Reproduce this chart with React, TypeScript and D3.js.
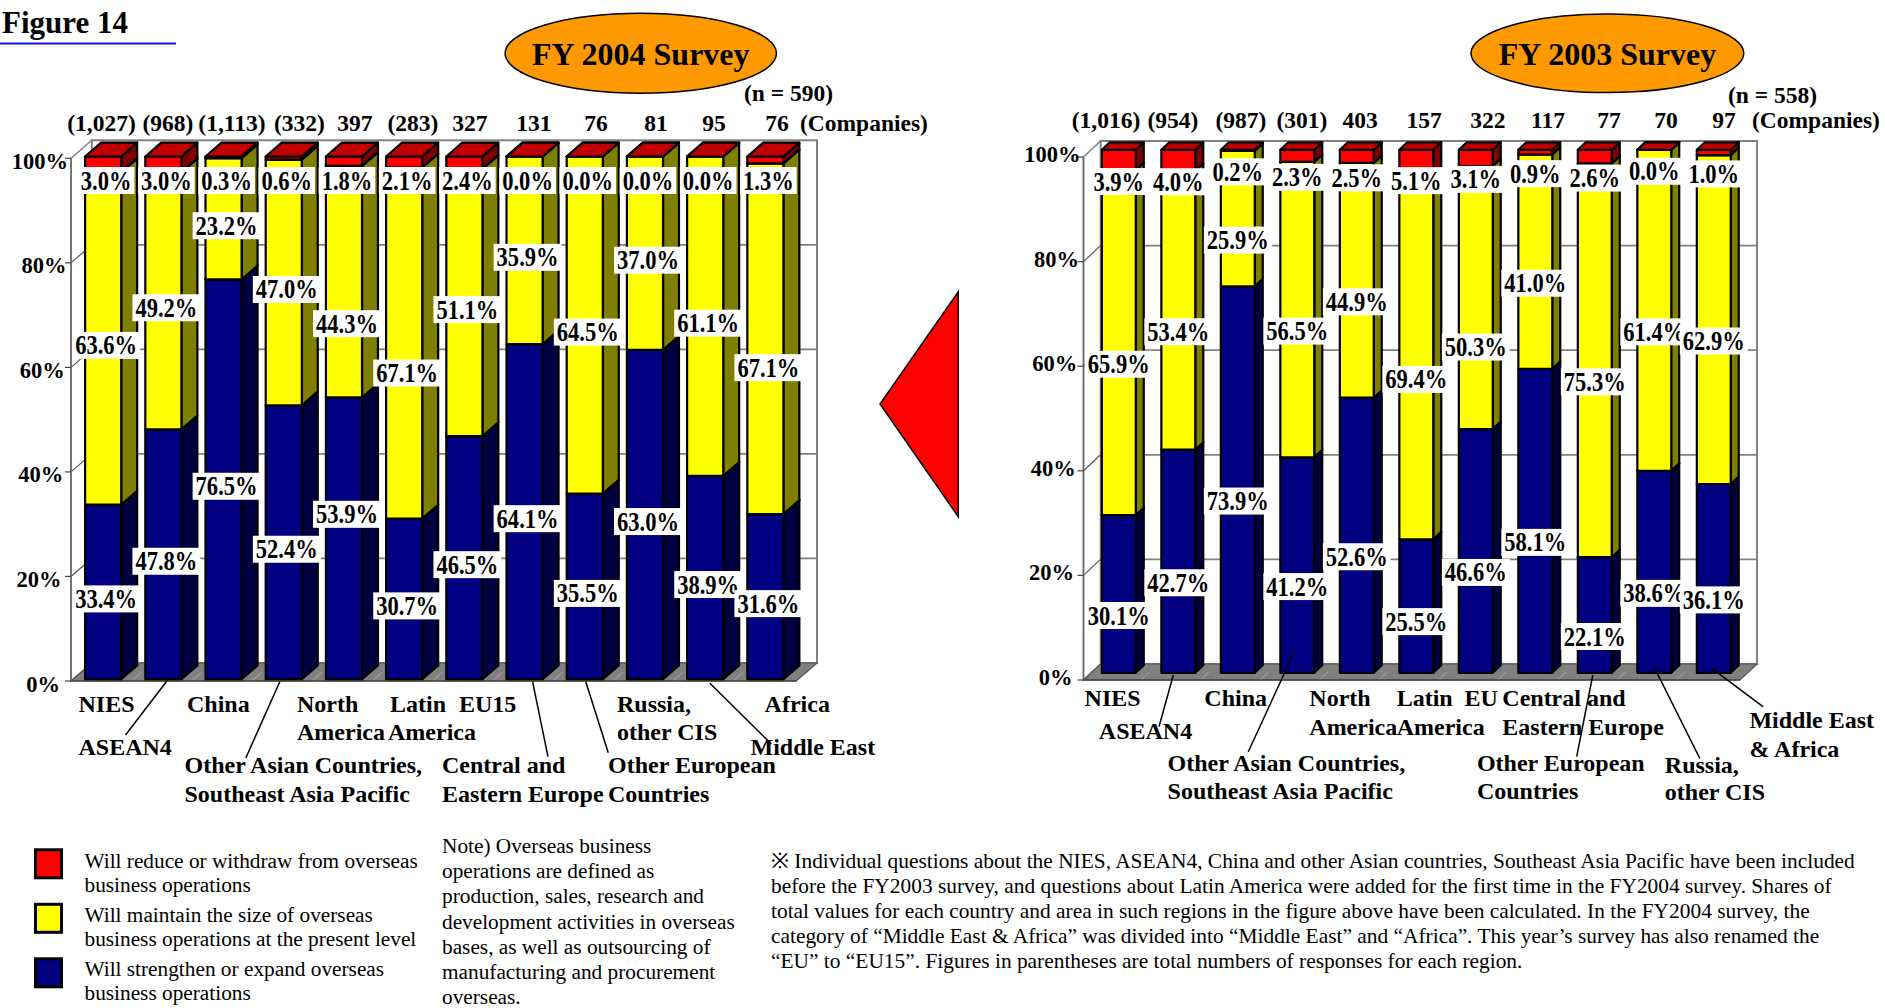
import React from "react";
import * as d3 from "d3";

// ---------- data ----------
const FY2004_REGIONS = [
  "NIES", "ASEAN4", "China", "Other Asian Countries, Southeast Asia Pacific",
  "North America", "Latin America", "EU15", "Central and Eastern Europe",
  "Other European Countries", "Russia, other CIS", "Middle East", "Africa",
];
const FY2004_COUNTS = ["(1,027)", "(968)", "(1,113)", "(332)", "397", "(283)", "327", "131", "76", "81", "95", "76"];
const FY2004_REDUCE = [3.0, 3.0, 0.3, 0.6, 1.8, 2.1, 2.4, 0.0, 0.0, 0.0, 0.0, 1.3];
const FY2004_MAINTAIN = [63.6, 49.2, 23.2, 47.0, 44.3, 67.1, 51.1, 35.9, 64.5, 37.0, 61.1, 67.1];
const FY2004_EXPAND = [33.4, 47.8, 76.5, 52.4, 53.9, 30.7, 46.5, 64.1, 35.5, 63.0, 38.9, 31.6];

const FY2003_REGIONS = [
  "NIES", "ASEAN4", "China", "Other Asian Countries, Southeast Asia Pacific",
  "North America", "Latin America", "EU", "Central and Eastern Europe",
  "Other European Countries", "Russia, other CIS", "Middle East & Africa",
];
const FY2003_COUNTS = ["(1,016)", "(954)", "(987)", "(301)", "403", "157", "322", "117", "77", "70", "97"];
const FY2003_REDUCE = [3.9, 4.0, 0.2, 2.3, 2.5, 5.1, 3.1, 0.9, 2.6, 0.0, 1.0];
const FY2003_MAINTAIN = [65.9, 53.4, 25.9, 56.5, 44.9, 69.4, 50.3, 41.0, 75.3, 61.4, 62.9];
const FY2003_EXPAND = [30.1, 42.7, 73.9, 41.2, 52.6, 25.5, 46.6, 58.1, 22.1, 38.6, 36.1];

const Y_TICKS = [0, 20, 40, 60, 80, 100];

const LEGEND_LABELS = [
  ["Will reduce or withdraw from overseas", "business operations"],
  ["Will maintain the size of overseas", "business operations at the present level"],
  ["Will strengthen or expand overseas", "business operations"],
];

const NOTE_LINES = [
  "Note) Overseas business",
  "operations are defined as",
  "production, sales, research and",
  "development activities in overseas",
  "bases, as well as outsourcing of",
  "manufacturing and procurement",
  "overseas.",
];

const FOOTNOTE_LINES = [
  "※ Individual questions about the NIES, ASEAN4, China and other Asian countries, Southeast Asia Pacific have been included",
  "before the FY2003 survey, and questions about Latin America were added for the first time in the FY2004 survey. Shares of",
  "total values for each country and area in such regions in the figure above have been calculated. In the FY2004 survey, the",
  "category of “Middle East & Africa” was divided into “Middle East” and “Africa”. This year’s survey has also renamed the",
  "“EU” to “EU15”. Figures in parentheses are total numbers of responses for each region.",
];

// ---------- styling ----------
const SERIF = "'Liberation Serif', 'Times New Roman', Times, serif";
const KEYS = ["expand", "maintain", "reduce"] as const;
type Key = typeof KEYS[number];
const FACE: Record<Key, { front: string; side: string; top: string }> = {
  expand: { front: "#000080", side: "#000040", top: "#000060" },
  maintain: { front: "#FFFF00", side: "#808000", top: "#C0C000" },
  reduce: { front: "#FF0000", side: "#800000", top: "#C00000" },
};
const LEGEND_KEYS: Key[] = ["reduce", "maintain", "expand"];

type Row = { region: string; expand: number; maintain: number; reduce: number };

interface PanelCfg {
  x0: number; x1: number; wallRight: number;
  yBase: number; yTop: number;
  dx: number; dy: number; zN: number; zF: number;
  pi: number; po: number;
  labelDx: number; labelShift: number; labelTopClamp: number;
  countY: number; tickBaseline: number;
}

const LEFT_CFG: PanelCfg = {
  x0: 71, x1: 793.4, wallRight: 817, yBase: 681, yTop: 158.3,
  dx: 20.7, dy: 18, zN: 0.1, zF: 0.87, pi: 0.4, po: 0.2,
  labelDx: 3, labelShift: 7, labelTopClamp: 24, countY: 131, tickBaseline: 10.5,
};
const RIGHT_CFG: PanelCfg = {
  x0: 1083.5, x1: 1733.8, wallRight: 1757, yBase: 680, yTop: 157,
  dx: 17, dy: 16, zN: 0.45, zF: 0.92, pi: 0.43, po: 0.18,
  labelDx: 0, labelShift: 21.5, labelTopClamp: -999, countY: 128.3, tickBaseline: 5,
};

// horizontal offsets of the response-count row relative to each bar's front centre
const LEFT_COUNT_DX = [-1.7, 4.6, 8.4, 15.7, 11, 8.8, 5.6, 9.4, 11.2, 11, 8.8, 11.6];
const RIGHT_COUNT_DX = [-12.8, -5.3, 3.2, 4.7, 3.2, 7.7, 12.2, 12.7, 14.2, 11.7, 10.2];

// hand-moved data labels: "barIndex:key" -> vertical nudge
const LEFT_LABEL_NUDGE: Record<string, number> = {
  "4:maintain": 35, "4:expand": -31, "5:maintain": 23, "11:maintain": 22,
};
const RIGHT_LABEL_NUDGE: Record<string, number> = {
  "6:maintain": 28, "5:expand": -6, "5:reduce": -4,
};

// category label placement: text lines [text, x, baseline], optional leader [fromX, fromY, dxToBar, yEnd]
type AxisLabel = { lines: [string, number, number][]; leader?: [number, number, number, number] };
const LEFT_AXIS_LABELS: AxisLabel[] = [
  { lines: [["NIES", 78.5, 711.7]] },
  { lines: [["ASEAN4", 78.5, 755]], leader: [125.5, 735, 6.6, 677] },
  { lines: [["China", 187, 711.7]] },
  { lines: [["Other Asian Countries,", 184.5, 773.3], ["Southeast Asia Pacific", 184.5, 801.7]], leader: [245.8, 758, -4, 681.7] },
  { lines: [["North", 297, 711.7], ["America", 297, 739.5]] },
  { lines: [["Latin", 390, 711.7], ["America", 388, 739.5]] },
  { lines: [["EU15", 459, 711.7]] },
  { lines: [["Central and", 442, 773.3], ["Eastern Europe", 442, 801.7]], leader: [548, 756.7, 8, 681.7] },
  { lines: [["Other European", 608, 773.3], ["Countries", 608, 801.7]], leader: [608.3, 752.7, 1, 681.7] },
  { lines: [["Russia,", 617, 711.7], ["other CIS", 617, 740]] },
  { lines: [["Middle East", 750.5, 755]], leader: [771.4, 744, 4.7, 683.3] },
  { lines: [["Africa", 764.6, 711.7]] },
];
const RIGHT_AXIS_LABELS: AxisLabel[] = [
  { lines: [["NIES", 1084.6, 706]] },
  { lines: [["ASEAN4", 1098.8, 739.3]], leader: [1159, 726.7, -5, 675] },
  { lines: [["China", 1204.3, 706]] },
  { lines: [["Other Asian Countries,", 1167.6, 771], ["Southeast Asia Pacific", 1167.6, 799.3]], leader: [1248.3, 751.7, -3, 651.7] },
  { lines: [["North", 1309.3, 706], ["America", 1309.3, 735]] },
  { lines: [["Latin", 1396.7, 706], ["America", 1396.7, 735]] },
  { lines: [["EU", 1464.4, 706]] },
  { lines: [["Central and", 1502.3, 706], ["Eastern Europe", 1502.3, 735]] },
  { lines: [["Other European", 1476.9, 771], ["Countries", 1476.9, 799.3]], leader: [1576.7, 756.7, -2, 675] },
  { lines: [["Russia,", 1664.8, 772.7], ["other CIS", 1664.8, 800]], leader: [1699.8, 758.3, 0, 667.3] },
  { lines: [["Middle East", 1749.4, 728.3], ["& Africa", 1749.4, 756.7]], leader: [1763, 706.7, -2, 668.3] },
];

const pts = (p: number[][]) => p.map((q) => q.join(",")).join(" ");
const CHAR_W: Record<string, number> = { ".": 0.25, "%": 1.0 };
const estW = (s: string, fs: number) => s.split("").reduce((a, c) => a + (CHAR_W[c] ?? 0.5), 0) * fs;

function buildRows(regions: string[], exp: number[], mai: number[], red: number[]): Row[] {
  return regions.map((r, i) => ({ region: r, expand: exp[i], maintain: mai[i], reduce: red[i] }));
}

function Panel({ cfg, rows, counts, countDx, nudge, axisLabels }: {
  cfg: PanelCfg; rows: Row[]; counts: string[]; countDx: number[];
  nudge: Record<string, number>; axisLabels: AxisLabel[];
}) {
  const regions = rows.map((r) => r.region);
  const x = d3.scaleBand<string>().domain(regions).range([cfg.x0, cfg.x1]).paddingInner(cfg.pi).paddingOuter(cfg.po);
  const y = d3.scaleLinear().domain([0, 100]).range([cfg.yBase, cfg.yTop]);
  const P = (px: number, v: number, z: number) => [px + cfg.dx * z, y(v) - cfg.dy * z];
  const stacked = d3.stack<Row>().keys(KEYS as unknown as string[]).offset(d3.stackOffsetExpand)(rows);
  const bw = x.bandwidth();
  const frontCenter = (r: string) => (x(r) as number) + bw / 2 + cfg.dx * cfg.zN;

  const floorRight = cfg.wallRight - cfg.dx;
  const wallTop = y(100) - cfg.dy;
  const wallBottom = y(0) - cfg.dy;
  const grid = "#808080";

  const bars: JSX.Element[] = [];
  const labels: JSX.Element[] = [];
  rows.forEach((row, i) => {
    const xl = x(row.region) as number;
    const xr = xl + bw;
    stacked.forEach((layer) => {
      const key = layer.key as Key;
      const v0 = layer[i][0] * 100;
      const v1 = layer[i][1] * 100;
      const c = FACE[key];
      bars.push(
        <g key={`${row.region}-${key}`} stroke="#000" strokeWidth={2.2} strokeLinejoin="round">
          <polygon points={pts([P(xr, v0, cfg.zN), P(xr, v0, cfg.zF), P(xr, v1, cfg.zF), P(xr, v1, cfg.zN)])} fill={c.side} />
          <polygon points={pts([P(xl, v0, cfg.zN), P(xr, v0, cfg.zN), P(xr, v1, cfg.zN), P(xl, v1, cfg.zN)])} fill={c.front} />
          <polygon points={pts([P(xl, v1, cfg.zN), P(xr, v1, cfg.zN), P(xr, v1, cfg.zF), P(xl, v1, cfg.zF)])} fill={c.top} />
        </g>
      );
      const txt = `${row[key].toFixed(1)}%`;
      const cx = frontCenter(row.region) + cfg.labelDx;
      const barTop = y(100) - cfg.dy * cfg.zN;
      const cy = Math.max(y((v0 + v1) / 2) - cfg.dy * cfg.zN + cfg.labelShift, barTop + cfg.labelTopClamp)
        + (nudge[`${i}:${key}`] ?? 0);
      const w = estW(txt, 22.5) + 6;
      labels.push(
        <g key={`lab-${row.region}-${key}`}>
          <rect x={cx - w / 2} y={cy - 13.5} width={w} height={27} fill="#fff" />
          <text transform={`translate(${cx},${cy + 9}) scale(0.85,1)`} textAnchor="middle" fontSize={26.5} fontWeight="bold" fontFamily={SERIF}>{txt}</text>
        </g>
      );
    });
  });

  return (
    <g>
      {/* back wall */}
      <rect x={cfg.x0 + cfg.dx} y={wallTop} width={cfg.wallRight - cfg.x0 - cfg.dx} height={wallBottom - wallTop} fill="#fff" stroke={grid} strokeWidth={2} />
      {/* side wall */}
      <polygon points={pts([[cfg.x0, y(0)], [cfg.x0, y(100)], [cfg.x0 + cfg.dx, wallTop], [cfg.x0 + cfg.dx, wallBottom]])} fill="#fff" stroke={grid} strokeWidth={1.5} />
      {Y_TICKS.filter((t) => t > 0 && t < 100).map((t) => (
        <g key={`g${t}`} stroke={grid} strokeWidth={1.8}>
          <line x1={cfg.x0 + cfg.dx} x2={cfg.wallRight} y1={y(t) - cfg.dy} y2={y(t) - cfg.dy} />
          <line x1={cfg.x0} x2={cfg.x0 + cfg.dx} y1={y(t)} y2={y(t) - cfg.dy} strokeWidth={1.2} stroke="#555" />
        </g>
      ))}
      {/* floor */}
      <polygon points={pts([[cfg.x0, y(0)], [floorRight, y(0)], [cfg.wallRight, wallBottom], [cfg.x0 + cfg.dx, wallBottom]])} fill="#808080" stroke="#555" strokeWidth={1.2} />
      {regions.map((r, i) => {
        const xb = (x(r) as number) - (x.step() * cfg.pi) / 2;
        return i === 0 ? null : (
          <line key={`ft${i}`} x1={xb} x2={xb + cfg.dx * 0.5} y1={y(0)} y2={y(0) - cfg.dy * 0.5} stroke="#a8a8a8" strokeWidth={1} />
        );
      })}
      <line x1={cfg.x0} x2={floorRight} y1={y(0)} y2={y(0)} stroke="#444" strokeWidth={1.5} />
      {/* front axis */}
      <line x1={cfg.x0} x2={cfg.x0} y1={y(0)} y2={y(100)} stroke="#666" strokeWidth={1.5} />
      {Y_TICKS.map((t) => (
        <g key={`t${t}`}>
          <line x1={cfg.x0 - 6} x2={cfg.x0} y1={y(t)} y2={y(t)} stroke="#444" strokeWidth={1.2} />
          <text x={cfg.x0 - 11 + t * 0.08} y={y(t) + cfg.tickBaseline} textAnchor="end" fontSize={22.5} fontWeight="bold" fontFamily={SERIF}>{`${t}%`}</text>
        </g>
      ))}
      {bars}
      {labels}
      {/* response counts */}
      {counts.map((c, i) => (
        <text key={`c${i}`} x={frontCenter(regions[i]) + countDx[i]} y={cfg.countY} textAnchor="middle" fontSize={23.5} fontWeight="bold" fontFamily={SERIF}>{c}</text>
      ))}
      {/* category labels */}
      {axisLabels.map((al, i) => (
        <g key={`al${i}`}>
          {al.leader && (
            <line x1={al.leader[0]} y1={al.leader[1]} x2={frontCenter(regions[i]) + al.leader[2]} y2={al.leader[3]} stroke="#000" strokeWidth={1.5} />
          )}
          {al.lines.map(([t, lx, ly], j) => (
            <text key={j} x={lx} y={ly} fontSize={24} fontWeight="bold" fontFamily={SERIF}>{t}</text>
          ))}
        </g>
      ))}
    </g>
  );
}

export default function App() {
  const rows2004 = buildRows(FY2004_REGIONS, FY2004_EXPAND, FY2004_MAINTAIN, FY2004_REDUCE);
  const rows2003 = buildRows(FY2003_REGIONS, FY2003_EXPAND, FY2003_MAINTAIN, FY2003_REDUCE);
  return (
    <svg width={1885} height={1008} style={{ position: "absolute", left: 0, top: 0, display: "block", background: "#fff" }} fontFamily={SERIF}>
      <rect width={1885} height={1008} fill="#fff" />
      <text x={2} y={33} fontSize={31} fontWeight="bold">Figure 14</text>
      <line x1={0} x2={176} y1={43.5} y2={43.5} stroke="#1010F0" strokeWidth={2} />

      <ellipse cx={640.8} cy={53.3} rx={135.7} ry={40} fill="#FF9900" stroke="#000" strokeWidth={1.5} />
      <text x={640.8} y={65} textAnchor="middle" fontSize={32} fontWeight="bold">FY 2004 Survey</text>
      <ellipse cx={1607.4} cy={53.3} rx={136.4} ry={39.3} fill="#FF9900" stroke="#000" strokeWidth={1.5} />
      <text x={1607.4} y={65} textAnchor="middle" fontSize={32} fontWeight="bold">FY 2003 Survey</text>

      <text x={833} y={101} textAnchor="end" fontSize={23.5} fontWeight="bold">(n = 590)</text>
      <text x={800} y={131} fontSize={23.5} fontWeight="bold">(Companies)</text>
      <text x={1817} y={103} textAnchor="end" fontSize={23.5} fontWeight="bold">(n = 558)</text>
      <text x={1752} y={128.3} fontSize={23.5} fontWeight="bold">(Companies)</text>

      <Panel cfg={LEFT_CFG} rows={rows2004} counts={FY2004_COUNTS} countDx={LEFT_COUNT_DX} nudge={LEFT_LABEL_NUDGE} axisLabels={LEFT_AXIS_LABELS} />
      <Panel cfg={RIGHT_CFG} rows={rows2003} counts={FY2003_COUNTS} countDx={RIGHT_COUNT_DX} nudge={RIGHT_LABEL_NUDGE} axisLabels={RIGHT_AXIS_LABELS} />

      {/* arrow pointing from FY2003 to FY2004 */}
      <polygon points="958.3,291.7 880,404 958.3,516.7" fill="#FF0000" stroke="#000" strokeWidth={1.5} />

      {/* legend */}
      {LEGEND_KEYS.map((k, i) => (
        <g key={k}>
          <rect x={35.5} y={849.8 + i * 54.5} width={26} height={28} fill={FACE[k].front} stroke="#000" strokeWidth={3} />
          {LEGEND_LABELS[i].map((t, j) => (
            <text key={j} x={84.5} y={868 + i * 54 + j * 24} fontSize={21.3}>{t}</text>
          ))}
        </g>
      ))}

      {NOTE_LINES.map((t, i) => (
        <text key={`n${i}`} x={442} y={853 + i * 25.2} fontSize={21.3}>{t}</text>
      ))}
      {FOOTNOTE_LINES.map((t, i) => (
        <text key={`f${i}`} x={771} y={867.5 + i * 25} fontSize={21.4}>{t}</text>
      ))}
    </svg>
  );
}
